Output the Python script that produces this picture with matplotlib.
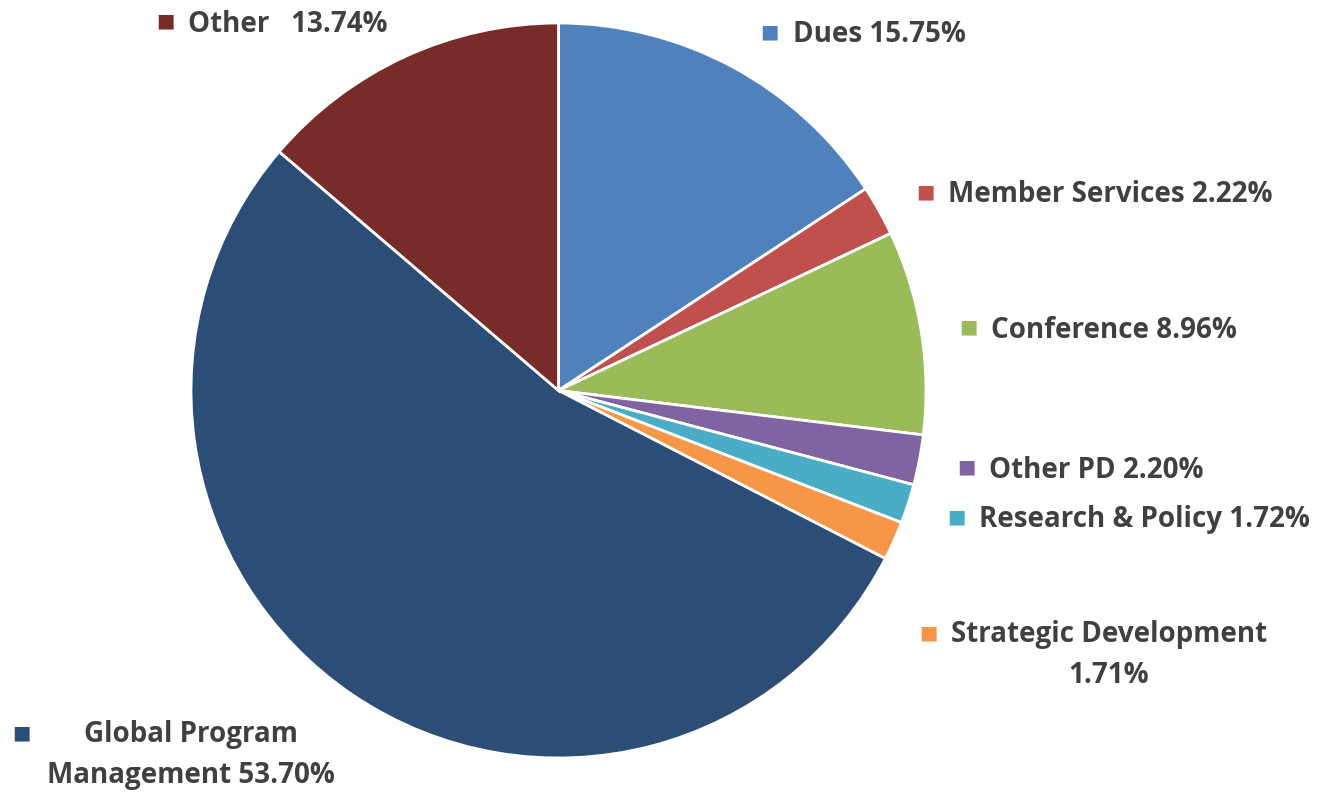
import matplotlib.pyplot as plt

# slice data, clockwise from 12 o'clock
labels = ['Dues', 'Member Services', 'Conference', 'Other PD', 'Research & Policy',
          'Strategic Development', 'Global Program Management', 'Other']
shares = [15.75, 2.22, 8.96, 2.20, 1.72, 1.71, 53.70, 13.74]
colors = ['#4F81BD', '#C0504D', '#9BBB59', '#8064A2', '#4BACC6',
          '#F79646', '#2C4D75', '#772C2A']
label_texts = ['Dues 15.75%', 'Member Services 2.22%', 'Conference 8.96%', 'Other PD 2.20%',
               'Research & Policy 1.72%', 'Strategic Development\n1.71%',
               'Global Program\nManagement 53.70%', 'Other   13.74%']

W, H = 1319, 792
fig = plt.figure(figsize=(W / 100, H / 100), dpi=100)

# pie box in pixels: left 191, right 926, top 23, bottom 758
ax = fig.add_axes([191 / W, (H - 758) / H, 735 / W, 735 / H])
ax.pie(shares, colors=colors, startangle=90, counterclock=False,
       wedgeprops=dict(edgecolor='white', linewidth=2))
ax.set_xlim(-1, 1)
ax.set_ylim(-1, 1)
ax.set_aspect('equal')
ax.axis('off')

# label placement (marker x, text x, y) in pixels
label_pos = [(165, 188, 21), (769, 793, 32), (925, 948, 192), (968, 991, 327),
             (966, 989, 467), (956, 979, 517), (928, 951, 633), (21, 47, 733)]
order = [7, 0, 1, 2, 3, 4, 5, 6]
text_col = '#404040'
fs = 20
for (mx, tx, ty), i in zip(label_pos, order):
    fig.text(mx / W, 1 - ty / H, '\u25A0', color=colors[i], fontsize=14,
             ha='center', va='center', family='DejaVu Sans')
    if '\n' in label_texts[i]:
        fig.text(tx / W, 1 - (ty - 13) / H, label_texts[i], color=text_col, fontsize=fs,
                 fontweight='bold', family='Open Sans', ha='left', va='top',
                 multialignment='center', linespacing=1.55)
    else:
        fig.text(tx / W, 1 - (ty + 3) / H, label_texts[i], color=text_col, fontsize=fs,
                 fontweight='bold', family='Open Sans', ha='left', va='center')

fig.savefig('out.png', dpi=100)
